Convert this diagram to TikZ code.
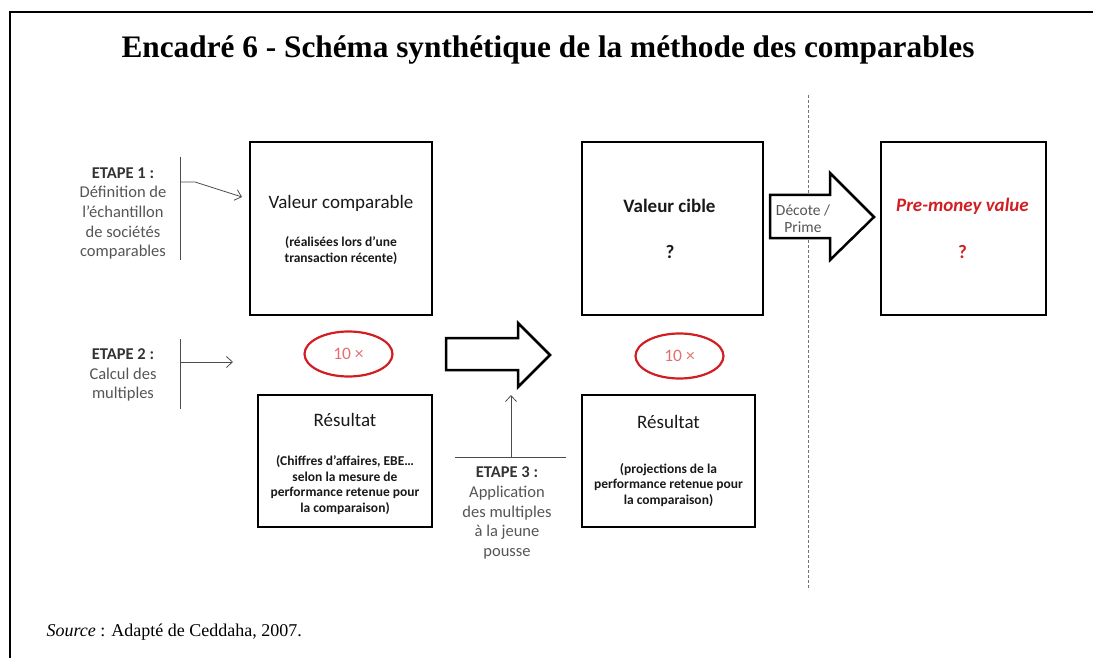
\documentclass[tikz,border=0pt]{standalone}
\usepackage{fontspec}
\setmainfont{Carlito}
\newfontfamily\timesfont{Liberation Serif}
\usetikzlibrary{shapes.geometric, arrows.meta}

\definecolor{etapegray}{RGB}{85,85,85}
\definecolor{ovalred}{RGB}{210,30,35}
\definecolor{palered}{RGB}{228,110,110}

\begin{document}
\begin{tikzpicture}[x=1pt, y=-1pt, >={Straight Barb[length=6pt,width=11pt]},
    valbox/.style={draw, line width=2.5pt, inner sep=0pt},
    bigtxt/.style={font=\fontsize{19}{22}\selectfont, text=black!90},
    smalltxt/.style={font=\bfseries\fontsize{13.5}{15.5}\selectfont, align=center, text=black!90},
    etape/.style={font=\fontsize{16.5}{19.7}\selectfont, text=etapegray, align=center},
    bracket/.style={line width=0.8pt, black!70},
    multiple/.style={ellipse, draw=ovalred, line width=2.2pt, minimum width=88pt, minimum height=45pt,
        inner sep=0pt, text=palered, font=\fontsize{17.5}{20}\selectfont},
    blockarrow/.style={draw, line width=2.5pt, line join=miter, fill=white}]
    \useasboundingbox (0,0) rectangle (1093,658);

    % Cadre et titre
    \draw[line width=1.6pt] (10,658) -- (10,12) -- (1093,12);
    \node[font=\timesfont\bfseries\fontsize{31.3}{36}\selectfont] (titre) at (548,50)
        {Encadré 6 - Schéma synthétique de la méthode des comparables};
    \node[font=\timesfont\fontsize{18}{22}\selectfont, anchor=west] (source) at (43,632)
        {\textit{Source} : Adapté de Ceddaha, 2007.};

    % Séparation
    \draw[black!55, line width=0.8pt, dash pattern=on 3pt off 2pt] (808,95) -- (808,590);

    % Cadres des valeurs
    \node[valbox, minimum width=182pt, minimum height=173pt] (comp) at (341,228.5) {};
    \node[bigtxt] (comptxt) at (341,203) {Valeur comparable};
    \node[smalltxt] (compsub) at (341,250.5) {(réalisées lors d’une\\transaction récente)};

    \node[valbox, minimum width=181pt, minimum height=173pt] (cible) at (672.5,228.5) {};
    \node[bigtxt, font=\bfseries\fontsize{19}{21}\selectfont] (cibletxt) at (669.5,206) {Valeur cible};
    \node[bigtxt, font=\bfseries\fontsize{19}{21}\selectfont] (ciblevar) at (670,252) {?};

    \node[valbox, minimum width=165pt, minimum height=173pt] (premoney) at (963.5,228.5) {};
    \node[font=\bfseries\itshape\fontsize{19}{21}\selectfont, text=ovalred] (pmtxt) at (962.5,206) {Pre-money value};
    \node[font=\bfseries\fontsize{19}{21}\selectfont, text=ovalred] (pmvar) at (962.5,252) {?};

    % Multiples
    \node[multiple] (mult1) at (348.5,354) {10 ×};
    \node[multiple] (mult2) at (679.5,356) {10 ×};

    % Cadres des résultats
    \node[valbox, minimum width=174pt, minimum height=132pt] (res1) at (345,461) {};
    \node[bigtxt] (res1txt) at (345,420) {Résultat};
    \node[smalltxt] (res1sub) at (345,485)
        {(Chiffres d’affaires, EBE…\\selon la mesure de\\performance retenue pour\\la comparaison)};

    \node[valbox, minimum width=173pt, minimum height=132pt] (res2) at (668.5,461) {};
    \node[bigtxt] (res2txt) at (668.5,422) {Résultat};
    \node[smalltxt] (res2sub) at (668.5,485)
        {(projections de la\\performance retenue pour\\la comparaison)};

    % Flèches pleines
    \draw[blockarrow] (446,338) -- (518,338) -- (518,323) -- (550,355) -- (518,387) -- (518,370) -- (446,370) -- cycle;
    \draw[blockarrow] (770,195) -- (830,195) -- (830,173) -- (874,217) -- (830,260) -- (830,238) -- (770,238) -- cycle;
    \node[font=\fontsize{15.5}{17}\selectfont, text=etapegray, align=center] (decote) at (803,218.5) {Décote /\\Prime};

    % Etapes
    \node[etape] (etape1) at (123,213.5) {\textbf{\textcolor{black!80}{ETAPE 1 :}}\\Définition de\\l’échantillon\\de sociétés\\comparables};
    \coordinate (e1top) at (180,157);
    \coordinate (e1bot) at (180,260);
    \coordinate (e1mid) at (180,182);
    \coordinate (e1bend) at (195,182);
    \coordinate (e1tip) at (242,197);
    \draw[bracket] (e1top) -- (e1bot);
    \draw[bracket, ->] (e1mid) -- (e1bend) -- (e1tip);

    \node[etape] (etape2) at (123,375) {\textbf{\textcolor{black!80}{ETAPE 2 :}}\\Calcul des\\multiples};
    \coordinate (e2top) at (180,339);
    \coordinate (e2bot) at (180,409);
    \coordinate (e2mid) at (180,362);
    \coordinate (e2tip) at (233,362);
    \draw[bracket] (e2top) -- (e2bot);
    \draw[bracket, ->] (e2mid) -- (e2tip);

    \node[etape] (etape3) at (507,513) {\textbf{\textcolor{black!80}{ETAPE 3 :}}\\Application\\des multiples\\à la jeune\\pousse};
    \coordinate (e3left) at (455,457);
    \coordinate (e3right) at (566,457);
    \coordinate (e3mid) at (511,457);
    \coordinate (e3tip) at (511,395);
    \draw[bracket] (e3left) -- (e3right);
    \draw[bracket, ->] (e3mid) -- (e3tip);
\end{tikzpicture}
\end{document}
